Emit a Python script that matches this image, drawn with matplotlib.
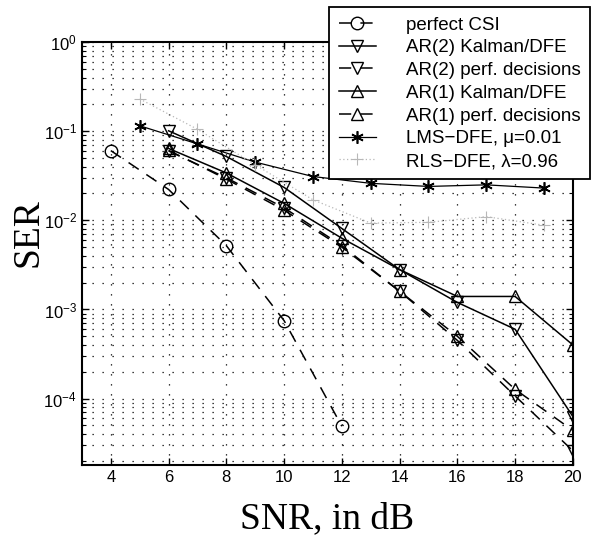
import numpy as np
import matplotlib
matplotlib.use("Agg")
import matplotlib.pyplot as plt
from matplotlib.ticker import LogLocator, NullFormatter

plt.rcParams['font.family'] = ['Liberation Sans', 'DejaVu Sans']
plt.rcParams['mathtext.fontset'] = 'custom'
plt.rcParams['mathtext.rm'] = 'Liberation Sans'

## data
snr = [6, 8, 10, 12, 14, 16, 18, 20]
snr_csi = [4, 6, 8, 10, 12]
snr_odd = [5, 7, 9, 11, 13, 15, 17, 19]

ser_csi = [0.0605, 0.0222, 0.0052, 7.5e-4, 4.9e-5]
ser_ar2_kal = [0.101, 0.052, 0.0234, 0.0081, 0.0028, 0.0012, 6.0e-4, 6.3e-5]
ser_ar2_perf = [0.060, 0.030, 0.0138, 0.0052, 0.0016, 4.5e-4, 1.07e-4, 2.6e-5]
ser_ar1_kal = [0.064, 0.034, 0.0155, 0.0063, 0.0028, 1.4e-3, 1.4e-3, 4.0e-4]
ser_ar1_perf = [0.061, 0.029, 0.0130, 0.0050, 0.0016, 5.0e-4, 1.27e-4, 4.4e-5]
ser_lms = [0.115, 0.072, 0.045, 0.031, 0.026, 0.024, 0.025, 0.023]
ser_rls = [0.23, 0.105, 0.042, 0.017, 0.0093, 0.0095, 0.011, 0.0088]

labels = ['perfect CSI', 'AR(2) Kalman/DFE', 'AR(2) perf. decisions',
          'AR(1) Kalman/DFE', 'AR(1) perf. decisions',
          'LMS\u2212DFE, \u03bc=0.01', 'RLS\u2212DFE, \u03bb=0.96']

fig = plt.figure(figsize=(5.98, 5.43), dpi=100)
ax = fig.add_axes([0.137, 0.1436, 0.821, 0.779])

dash = (0, (8, 6))
mk = dict(markerfacecolor='none', markeredgecolor='k', markersize=9, markeredgewidth=1.0)

h = []
h += ax.semilogy(snr_csi, ser_csi, color='k', ls=dash, lw=1.1, marker='o', **mk)
h += ax.semilogy(snr, ser_ar2_kal, color='k', ls='-', lw=1.1, marker='v', **mk)
h += ax.semilogy(snr, ser_ar2_perf, color='k', ls=dash, lw=1.1, marker='v', **mk)
h += ax.semilogy(snr, ser_ar1_kal, color='k', ls='-', lw=1.1, marker='^', **mk)
h += ax.semilogy(snr, ser_ar1_perf, color='k', ls=dash, lw=1.1, marker='^', **mk)
h += ax.semilogy(snr_odd, ser_lms, color='k', ls='-', lw=0.9, marker=(6, 2, 0),
                 markersize=9, markeredgewidth=1.2)
h += ax.semilogy(snr_odd, ser_rls, color='#b8b8b8', ls=(0, (1, 2)), lw=0.9, marker='+',
                 markersize=8, markeredgewidth=0.8)

ax.set_xlim(3, 20)
ax.set_ylim(1.8e-5, 1)
ax.set_xticks([4, 6, 8, 10, 12, 14, 16, 18, 20])
ax.yaxis.set_major_locator(LogLocator(base=10, numticks=10))
ax.yaxis.set_minor_locator(LogLocator(base=10, subs=np.arange(2, 10), numticks=20))
ax.yaxis.set_minor_formatter(NullFormatter())

grid_style = dict(color='k', linestyle=(0, (1, 7)), linewidth=0.9)
ax.grid(True, which='major', axis='both', **grid_style)
ax.grid(True, which='minor', axis='y', **grid_style)

ax.tick_params(which='both', direction='in', top=True, right=True, labelsize=12)
ax.tick_params(which='major', length=5, width=1)
ax.tick_params(which='minor', length=3, width=0.8)
for s in ax.spines.values():
    s.set_linewidth(1.5)

ax.set_xlabel('SNR, in dB', family='Liberation Serif', fontsize=27, labelpad=12)
ax.set_ylabel('SER', family='Liberation Serif', fontsize=27)
ax.yaxis.set_label_coords(-0.075, 0.55)

leg = fig.legend(h, labels, loc='upper right', bbox_to_anchor=(0.987, 0.987),
                 fontsize=13.5, handlelength=2.0, labelspacing=0.3, borderpad=0.5,
                 borderaxespad=0.0, handletextpad=1.6, fancybox=False, framealpha=1,
                 edgecolor='k')
leg.get_frame().set_linewidth(1.3)

fig.savefig('out.png', dpi=100)
